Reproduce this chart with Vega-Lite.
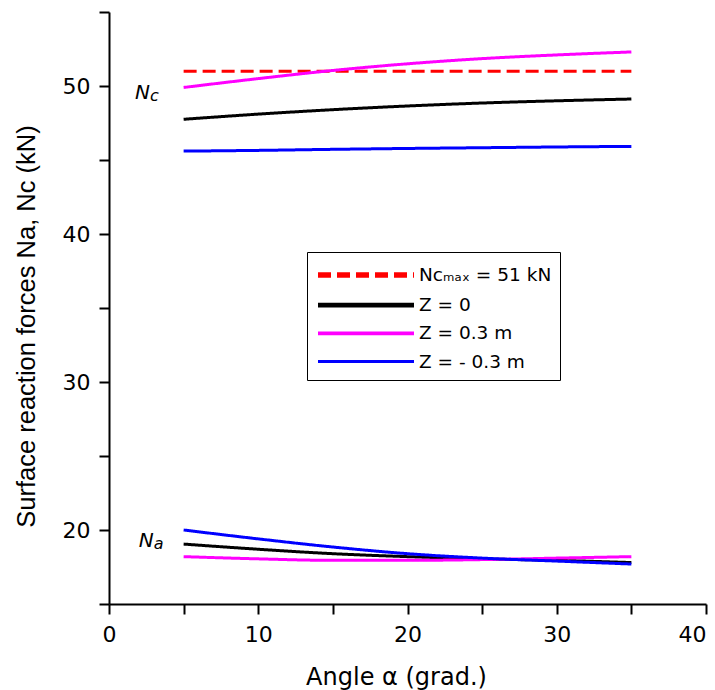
{
  "$schema": "https://vega.github.io/schema/vega-lite/v6.json",
  "width": 597,
  "height": 592,
  "autosize": {"type": "none"},
  "padding": {"left": 109, "top": 12, "right": 9, "bottom": 86},
  "background": "white",
  "config": {
    "view": {"stroke": null},
    "font": "DejaVu Sans",
    "axis": {
      "domainColor": "black",
      "domainWidth": 2,
      "tickColor": "black",
      "tickWidth": 2,
      "tickSize": 10,
      "grid": false,
      "labelColor": "black",
      "labelFont": "DejaVu Sans",
      "labelFontSize": 22,
      "titleFont": "DejaVu Sans",
      "titleFontSize": 24,
      "titleFontWeight": "normal",
      "titleColor": "black",
      "labelFlush": false,
      "labelOverlap": false
    }
  },
  "datasets": {
    "curves": [
      {"x": 5, "v": 51, "series": "Ncₘₐₓ = 51 kN", "group": "max"},
      {"x": 35, "v": 51, "series": "Ncₘₐₓ = 51 kN", "group": "max"},
      {"x": 5, "v": 47.75, "series": "Z = 0", "group": "Nc0"},
      {"x": 10, "v": 48.1, "series": "Z = 0", "group": "Nc0"},
      {"x": 15, "v": 48.4, "series": "Z = 0", "group": "Nc0"},
      {"x": 20, "v": 48.65, "series": "Z = 0", "group": "Nc0"},
      {"x": 25, "v": 48.85, "series": "Z = 0", "group": "Nc0"},
      {"x": 30, "v": 49.0, "series": "Z = 0", "group": "Nc0"},
      {"x": 35, "v": 49.12, "series": "Z = 0", "group": "Nc0"},
      {"x": 5, "v": 49.9, "series": "Z = 0.3 m", "group": "Nc+"},
      {"x": 10, "v": 50.5, "series": "Z = 0.3 m", "group": "Nc+"},
      {"x": 15, "v": 51.05, "series": "Z = 0.3 m", "group": "Nc+"},
      {"x": 20, "v": 51.5, "series": "Z = 0.3 m", "group": "Nc+"},
      {"x": 25, "v": 51.85, "series": "Z = 0.3 m", "group": "Nc+"},
      {"x": 30, "v": 52.1, "series": "Z = 0.3 m", "group": "Nc+"},
      {"x": 35, "v": 52.3, "series": "Z = 0.3 m", "group": "Nc+"},
      {"x": 5, "v": 45.6, "series": "Z = - 0.3 m", "group": "Nc-"},
      {"x": 10, "v": 45.65, "series": "Z = - 0.3 m", "group": "Nc-"},
      {"x": 15, "v": 45.72, "series": "Z = - 0.3 m", "group": "Nc-"},
      {"x": 20, "v": 45.78, "series": "Z = - 0.3 m", "group": "Nc-"},
      {"x": 25, "v": 45.83, "series": "Z = - 0.3 m", "group": "Nc-"},
      {"x": 30, "v": 45.88, "series": "Z = - 0.3 m", "group": "Nc-"},
      {"x": 35, "v": 45.92, "series": "Z = - 0.3 m", "group": "Nc-"},
      {"x": 5, "v": 19.05, "series": "Z = 0", "group": "Na0"},
      {"x": 10, "v": 18.7, "series": "Z = 0", "group": "Na0"},
      {"x": 15, "v": 18.4, "series": "Z = 0", "group": "Na0"},
      {"x": 20, "v": 18.2, "series": "Z = 0", "group": "Na0"},
      {"x": 25, "v": 18.05, "series": "Z = 0", "group": "Na0"},
      {"x": 30, "v": 17.95, "series": "Z = 0", "group": "Na0"},
      {"x": 35, "v": 17.8, "series": "Z = 0", "group": "Na0"},
      {"x": 5, "v": 18.2, "series": "Z = 0.3 m", "group": "Na+"},
      {"x": 10, "v": 18.05, "series": "Z = 0.3 m", "group": "Na+"},
      {"x": 15, "v": 17.95, "series": "Z = 0.3 m", "group": "Na+"},
      {"x": 20, "v": 17.95, "series": "Z = 0.3 m", "group": "Na+"},
      {"x": 25, "v": 18.0, "series": "Z = 0.3 m", "group": "Na+"},
      {"x": 30, "v": 18.1, "series": "Z = 0.3 m", "group": "Na+"},
      {"x": 35, "v": 18.2, "series": "Z = 0.3 m", "group": "Na+"},
      {"x": 5, "v": 20.0, "series": "Z = - 0.3 m", "group": "Na-"},
      {"x": 10, "v": 19.4, "series": "Z = - 0.3 m", "group": "Na-"},
      {"x": 15, "v": 18.85, "series": "Z = - 0.3 m", "group": "Na-"},
      {"x": 20, "v": 18.4, "series": "Z = - 0.3 m", "group": "Na-"},
      {"x": 25, "v": 18.1, "series": "Z = - 0.3 m", "group": "Na-"},
      {"x": 30, "v": 17.9, "series": "Z = - 0.3 m", "group": "Na-"},
      {"x": 35, "v": 17.7, "series": "Z = - 0.3 m", "group": "Na-"}
    ],
    "notes": [
      {"x": 1.75, "v": 49.55, "main": "N", "sub": "c"},
      {"x": 2.0, "v": 19.25, "main": "N", "sub": "a"}
    ]
  },
  "layer": [
    {
      "data": {"name": "curves"},
      "mark": {"type": "line", "interpolate": "monotone", "strokeWidth": 3, "strokeCap": "butt"},
      "encoding": {
        "x": {
          "field": "x", "type": "quantitative",
          "scale": {"domain": [0, 40], "nice": false},
          "axis": {"title": "Angle α (grad.)", "values": [0, 5, 10, 15, 20, 25, 30, 35, 40],
                   "labelExpr": "datum.value % 10 === 0 ? datum.label : ''",
                   "labelAlign": {"condition": {"test": "datum.value === 40", "value": "right"}, "value": "center"},
                   "labelPadding": 10, "titlePadding": 20, "titleX": 287}
        },
        "y": {
          "field": "v", "type": "quantitative",
          "scale": {"domain": [15, 55], "nice": false, "zero": false},
          "axis": {"title": "Surface reaction forces Na, Nc (kN)", "values": [15, 20, 25, 30, 35, 40, 45, 50, 55],
                   "labelExpr": "datum.value % 10 === 0 ? datum.label : ''",
                   "labelPadding": 9, "titlePadding": 23, "titleFont": "Liberation Sans", "titleFontSize": 25.5, "titleY": 314}
        },
        "detail": {"field": "group"},
        "color": {
          "field": "series", "type": "nominal",
          "scale": {"domain": ["Ncₘₐₓ = 51 kN", "Z = 0", "Z = 0.3 m", "Z = - 0.3 m"],
                    "range": ["#ff0000", "#000000", "#ff00ff", "#0000ff"]},
          "legend": {
            "title": null, "orient": "none", "legendX": 198, "legendY": 240,
            "symbolType": "M-4,0H4", "symbolSize": 576, "symbolStrokeWidth": 4,
            "symbolOffset": 36, "labelOffset": 38, "rowPadding": 4.7,
            "labelFontSize": 18.5, "labelFont": "DejaVu Sans", "labelColor": "black",
            "strokeColor": "black", "fillColor": "white", "padding": 8
          }
        },
        "strokeDash": {
          "field": "series", "type": "nominal",
          "scale": {"domain": ["Ncₘₐₓ = 51 kN", "Z = 0", "Z = 0.3 m", "Z = - 0.3 m"],
                    "range": [[13, 6], [1, 0], [1, 0], [1, 0]]}
        },
        "strokeWidth": {
          "field": "series", "type": "nominal",
          "scale": {"domain": ["Ncₘₐₓ = 51 kN", "Z = 0", "Z = 0.3 m", "Z = - 0.3 m"],
                    "range": [5.5, 3, 3, 3.5]},
          "legend": null
        }
      }
    },
    {
      "data": {"name": "notes"},
      "mark": {"type": "text", "align": "left", "baseline": "middle", "fontStyle": "italic", "fontSize": 20, "font": "DejaVu Sans", "color": "black"},
      "encoding": {
        "x": {"field": "x", "type": "quantitative"},
        "y": {"field": "v", "type": "quantitative"},
        "text": {"field": "main"}
      }
    },
    {
      "data": {"name": "notes"},
      "mark": {"type": "text", "align": "left", "baseline": "middle", "fontStyle": "italic", "fontSize": 16, "font": "DejaVu Sans", "color": "black", "dx": 15, "dy": 3},
      "encoding": {
        "x": {"field": "x", "type": "quantitative"},
        "y": {"field": "v", "type": "quantitative"},
        "text": {"field": "sub"}
      }
    }
  ]
}
